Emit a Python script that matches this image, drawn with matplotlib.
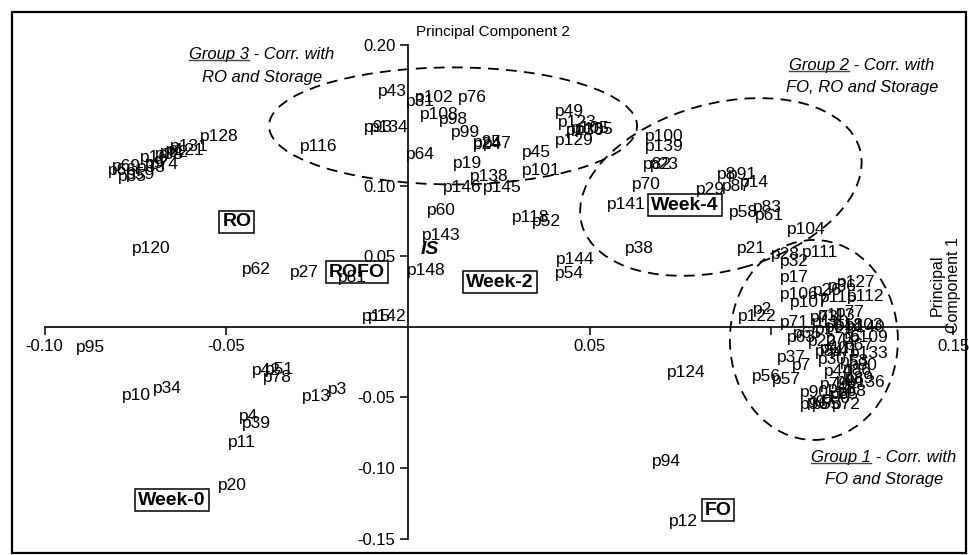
import matplotlib.pyplot as plt
from matplotlib.patches import Ellipse, Rectangle
from matplotlib.lines import Line2D
from matplotlib.transforms import ScaledTranslation, IdentityTransform

plt.rcParams['font.family'] = ['Liberation Sans', 'DejaVu Sans']

# PCA scores (PC1, PC2), one entry per peak label
names = ['p128', 'p66', 'p69', 'p35', 'p59', 'p33', 'p9', 'p74', 'p16', 'p88', 'p121', 'p131', 'p92',
         'p43', 'p31', 'p102', 'p76', 'p108', 'p98', 'p99', 'p24', 'p25', 'p47', 'p64', 'p19', 'p138',
         'p146', 'p145', 'p45', 'p101', 'p49', 'p123', 'p105', 'p130', 'p135', 'p129', 'p93', 'p134', 'p116',
         'p60', 'p118', 'p52', 'p143', 'p148', 'p144', 'p54',
         'p100', 'p139', 'p82', 'p23', 'p70', 'p141', 'p29', 'p8', 'p91', 'p87', 'p14', 'p58', 'p83',
         'p61', 'p38',
         'p120', 'p62', 'p27', 'p81', 'p15', 'p142',
         'p95', 'p42', 'p51', 'p78', 'p10', 'p34', 'p13', 'p3', 'p4', 'p39', 'p11', 'p20',
         'p124', 'p94', 'p12',
         'p104', 'p21', 'p28', 'p32', 'p111', 'p17', 'p106', 'p107', 'p127', 'p112', 'p26', 'p115', 'p36',
         'p2', 'p122', 'p71', 'p113', 'p140', 'p63', 'p65', 'p37', 'p7', 'p56', 'p57', 'p90', 'p97', 'p85',
         'p40', 'p133', 'p86', 'p136', 'p109', 'p5', 'p1', 'p6', 'p18', 'p22', 'p30', 'p41', 'p44', 'p46',
         'p48', 'p50', 'p53', 'p55', 'p67', 'p68', 'p72', 'p73', 'p75', 'p77', 'p79', 'p80', 'p84', 'p89',
         'p96', 'p103', 'p110']
pc1 = [-0.0572, -0.0826, -0.0815, -0.0798, -0.0776, -0.0746, -0.0724, -0.0710, -0.0738, -0.0696, -0.0666, -0.0655, -0.0682,
       -0.0083, -0.0006, 0.0019, 0.0138, 0.0033, 0.0085, 0.0118, 0.0179, 0.0179, 0.0206, -0.0006, 0.0124, 0.0171,
       0.0096, 0.0206, 0.0314, 0.0314, 0.0405, 0.0413, 0.0449, 0.0435, 0.0460, 0.0405, -0.0121, -0.0105, -0.0297,
       0.0052, 0.0286, 0.0341, 0.0039, -0.0003, 0.0407, 0.0405,
       0.0652, 0.0652, 0.0647, 0.0666, 0.0616, 0.0548, 0.0793, 0.0850, 0.0881, 0.0864, 0.0914, 0.0883, 0.0949,
       0.0955, 0.0597,
       -0.0759, -0.0457, -0.0325, -0.0193, -0.0127, -0.0110,
       -0.0914, -0.0429, -0.0394, -0.0399, -0.0787, -0.0702, -0.0292, -0.0220, -0.0465, -0.0457, -0.0495, -0.0523,
       0.0713, 0.0671, 0.0718,
       0.1043, 0.0905, 0.0999, 0.1024, 0.1084, 0.1024, 0.1024, 0.1051, 0.1181, 0.1208, 0.1114, 0.1134, 0.1156,
       0.0949, 0.0908, 0.1024, 0.1128, 0.1208, 0.1043, 0.1059, 0.1015, 0.1057, 0.0947, 0.1002, 0.1079, 0.1098, 0.1161,
       0.1134, 0.1216, 0.1197, 0.1208, 0.1216, 0.1194, 0.1120, 0.1147, 0.1175, 0.1101, 0.1128, 0.1161, 0.1145, 0.1178,
       0.1156, 0.1139, 0.1189, 0.1112, 0.1203, 0.1183, 0.1167, 0.1106, 0.1150, 0.1178, 0.1134, 0.1214, 0.1120, 0.1203,
       0.1079, 0.1203, 0.1112]
pc2 = [0.1348, 0.1113, 0.1135, 0.1064, 0.1078, 0.1128, 0.1163, 0.1149, 0.1199, 0.1220, 0.1255, 0.1277, 0.1241,
       0.1667, 0.1596, 0.1631, 0.1631, 0.1504, 0.1468, 0.1376, 0.1291, 0.1305, 0.1298, 0.1220, 0.1163, 0.1064,
       0.0986, 0.0986, 0.1234, 0.1113, 0.1525, 0.1447, 0.1411, 0.1390, 0.1404, 0.1326, 0.1418, 0.1418, 0.1277,
       0.0823, 0.0780, 0.0745, 0.0652, 0.0404, 0.0482, 0.0376,
       0.1348, 0.1277, 0.1149, 0.1149, 0.1014, 0.0872, 0.0972, 0.1078, 0.1085, 0.0993, 0.1028, 0.0809, 0.0844,
       0.0794, 0.0560,
       0.0560, 0.0411, 0.0383, 0.0348, 0.0071, 0.0071,
       -0.0142, -0.0305, -0.0298, -0.0355, -0.0489, -0.0433, -0.0496, -0.0440, -0.0638, -0.0681, -0.0816, -0.1121,
       -0.0326, -0.0957, -0.1376,
       0.0688, 0.0560, 0.0511, 0.0461, 0.0525, 0.0348, 0.0227, 0.0177, 0.0312, 0.0213, 0.0262, 0.0206, 0.0284,
       0.0121, 0.0071, 0.0035, 0.0085, -0.0007, -0.0078, -0.0043, -0.0213, -0.0270, -0.0348, -0.0369, -0.0468, -0.0532, -0.0482,
       -0.0149, -0.0191, -0.0305, -0.0397, -0.0078, -0.0071, -0.0021, -0.0007, 0.0014, -0.0106, -0.0234, -0.0177, -0.0319, -0.0376,
       -0.0433, -0.0504, -0.0248, -0.0553, -0.0128, -0.0461, -0.0553, 0.0064, -0.0092, 0.0106, -0.0411, -0.0270, -0.0177, -0.0362,
       -0.0553, 0.0014, 0.0035]

# treatment / time loadings shown as boxed labels
box_names = ['RO', 'ROFO', 'Week-0', 'Week-2', 'Week-4', 'FO']
box_pc1 = [-0.0471, -0.0140, -0.0649, 0.0253, 0.0762, 0.0853]
box_pc2 = [0.0745, 0.0390, -0.1227, 0.0319, 0.0865, -0.1298]

fig = plt.figure(figsize=(9.69, 5.55), dpi=100)
ax = fig.add_axes([0, 0, 1, 1])
ax.patch.set_visible(False)
ax.set_xlim(-0.11227, 0.15438)
ax.set_ylim(-0.1617, 0.2319)

# outer frame
fig.add_artist(Rectangle((12 / 969, 2 / 555), 954 / 969, 541 / 555, transform=fig.transFigure,
                         fill=False, ec='black', lw=1.6))

ax.spines['top'].set_visible(False)
ax.spines['right'].set_visible(False)
ax.spines['left'].set_position(('data', 0))
ax.spines['bottom'].set_position(('data', 0))
ax.spines['left'].set_bounds(-0.15, 0.20)
ax.spines['bottom'].set_bounds(-0.10, 0.15)
ax.spines['left'].set_linewidth(1.2)
ax.spines['bottom'].set_linewidth(1.2)
ax.set_xticks([-0.10, -0.05, 0.05, 0.10, 0.15])
ax.set_xticklabels(['-0.10', '-0.05', '0.05', '', '0.15'])
ax.set_yticks([-0.15, -0.10, -0.05, 0.05, 0.10, 0.20])
ax.set_yticklabels(['-0.15', '-0.10', '-0.05', '0.05', '0.10', '0.20'])
ax.tick_params(direction='out', length=6, width=1.1, labelsize=12, pad=3)

for n, x, y in zip(names, pc1, pc2):
    ax.text(x, y, n, ha='left', va='center', fontsize=12.5, zorder=3)

for n, x, y in zip(box_names, box_pc1, box_pc2):
    ax.text(x, y, n, ha='center', va='center', fontsize=14, fontweight='bold', zorder=4,
            bbox=dict(boxstyle='square,pad=0.15', fc='none', ec='black', lw=1.1))

ax.text(0.0036, 0.0553, 'IS', ha='left', va='center', fontsize=14, fontweight='bold', style='italic')

ax.text(0.0234, 0.2092, 'Principal Component 2', ha='center', va='center', fontsize=11)
ax.text(0.1478, 0.0298, 'Principal\nComponent 1', ha='center', va='center', fontsize=11.5,
        rotation=90, linespacing=1.1)

# dashed group ellipses: centre in data units, size in inches
groups = [((0.0124, 0.1426), 3.68, 1.17, 0),
          ((0.0861, 0.0993), 2.88, 1.67, 15),
          ((0.1117, -0.0092), 1.68, 2.00, 0)]
for (cx, cy), w, h, a in groups:
    tr = fig.dpi_scale_trans + ScaledTranslation(cx, cy, ax.transData)
    ax.add_patch(Ellipse((0, 0), w, h, angle=a, transform=tr, fill=False, ec='black',
                         lw=1.3, linestyle=(0, (6, 4))))

notes = [(-0.0402, 0.1929, 0.1766, 'Group 3', 'RO and Storage'),
         (0.1249, 0.1851, 0.1695, 'Group 2', 'FO, RO and Storage'),
         (0.1310, -0.0922, -0.1085, 'Group 1', 'FO and Storage')]
heads = []
for x, y1, y2, head, line2 in notes:
    t = ax.text(x, y1, head + ' - Corr. with', ha='center', va='center', fontsize=12, style='italic')
    ax.text(x, y2, line2, ha='center', va='center', fontsize=12, style='italic')
    heads.append((t, head))

fig.canvas.draw()
r = fig.canvas.get_renderer()
for t, head in heads:
    bb = t.get_window_extent(r)
    tmp = ax.text(0, 0, head, fontsize=12, style='italic')
    w = tmp.get_window_extent(r).width
    tmp.remove()
    yy = bb.y0 + 2
    fig.add_artist(Line2D([bb.x0, bb.x0 + w], [yy, yy], transform=IdentityTransform(),
                          color='#444444', lw=1))

fig.savefig('out.png', dpi=100)
